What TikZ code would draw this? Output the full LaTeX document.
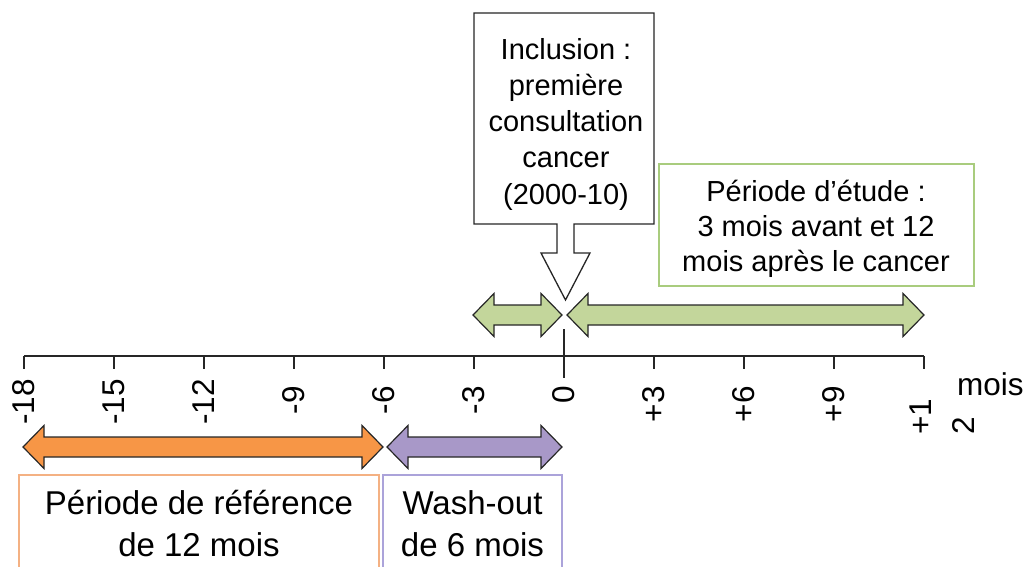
\documentclass[tikz,border=0pt]{standalone}
\usepackage{fontspec}
\setmainfont{Liberation Sans}

\definecolor{barorange}{HTML}{F79646}
\definecolor{barpurple}{HTML}{A898C8}
\definecolor{bargreen}{HTML}{C3D69B}
\definecolor{lineorange}{HTML}{F4B183}
\definecolor{linepurple}{HTML}{ABA3DA}
\definecolor{linegreen}{HTML}{A9CC7E}

\begin{document}
\begin{tikzpicture}[x=1pt,y=-1pt]

% Define styles
\tikzstyle{axis}=[draw=black!85, line width=1.3pt]
\tikzstyle{period}=[draw=black!85, line width=1.2pt, line join=miter]
\tikzstyle{orangebar}=[period, fill=barorange]
\tikzstyle{purplebar}=[period, fill=barpurple]
\tikzstyle{greenbar}=[period, fill=bargreen]
\tikzstyle{ticklabel}=[font=\fontsize{31.5}{43}\selectfont, rotate=90, inner sep=0pt, anchor=east]
\tikzstyle{boxtext}=[font=\fontsize{29}{35}\selectfont, align=center, inner sep=0pt]
\tikzstyle{bigtext}=[font=\fontsize{33}{42}\selectfont, align=center, inner sep=0pt]

% Parameters
\def\zero{564}
\def\mon{30}
\def\axisy{356}
\def\hl{21}
\def\hh{21.5}
\def\sh{10}

\useasboundingbox (0,0) rectangle (1029,567);

% Time axis
\coordinate (axisL) at ({\zero-18*\mon},\axisy);
\coordinate (axisR) at ({\zero+12*\mon},\axisy);
\draw[axis] (axisL) -- (axisR);
\foreach \m in {-18,-15,...,12} {
  \draw[axis] ({\zero+(\m)*\mon},\axisy) -- ++(0,13);
}
\draw[axis] (\zero,329) -- (\zero,378);

% Month labels
\foreach \m/\lab/\top in {-18/-18/379, -15/-15/379, -12/-12/379, -9/-9/386, -6/-6/386,
                          -3/-3/386, 0/0/386, 3/+3/386, 6/+6/386, 9/+9/386} {
  \node[ticklabel] (lab\m) at ({\zero+(\m)*\mon},\top) {\lab};
}
\node[ticklabel, anchor=north west, align=left] (lab12) at (910,435) {+1\\2};
\node[font=\fontsize{31.5}{38}\selectfont, inner sep=0pt, anchor=base west] (unit) at (957,395) {mois};

% Period arrows
\foreach \a/\b/\y/\s in {23/383/447/orangebar, 387/562/447/purplebar,
                         473/562/315/greenbar, 567/924/315/greenbar} {
  \draw[\s] (\a,\y) -- (\a+\hl,\y-\hh) -- (\a+\hl,\y-\sh) -- (\b-\hl,\y-\sh) -- (\b-\hl,\y-\hh)
    -- (\b,\y) -- (\b-\hl,\y+\hh) -- (\b-\hl,\y+\sh) -- (\a+\hl,\y+\sh) -- (\a+\hl,\y+\hh) -- cycle;
}

% Inclusion callout
\draw[fill=white, draw=black!85, line width=1.3pt, line join=miter]
  (474,13) -- (654,13) -- (654,224) -- (574,224) -- (574,253) -- (590,253) -- (565.5,300)
  -- (541,253) -- (557,253) -- (557,224) -- (474,224) -- cycle;
\node[boxtext, font=\fontsize{29}{36.25}\selectfont] (incl) at (566,124) {Inclusion :\\première\\consultation\\cancer\\(2000-10)};

% Text boxes
\draw[linegreen, line width=1.5pt] (659,164) rectangle (974,286);
\node[boxtext] (study) at (816,229) {Période d’étude :\\3 mois avant et 12\\mois après le cancer};

\draw[lineorange, line width=1.5pt] (19,475) rectangle (379,595);
\node[bigtext] (ref) at (199,524) {Période de référence\\de 12 mois};

\draw[linepurple, line width=1.5pt] (383,475) rectangle (562,595);
\node[bigtext] (wash) at (472.5,524) {Wash-out\\de 6 mois};

\end{tikzpicture}
\end{document}
